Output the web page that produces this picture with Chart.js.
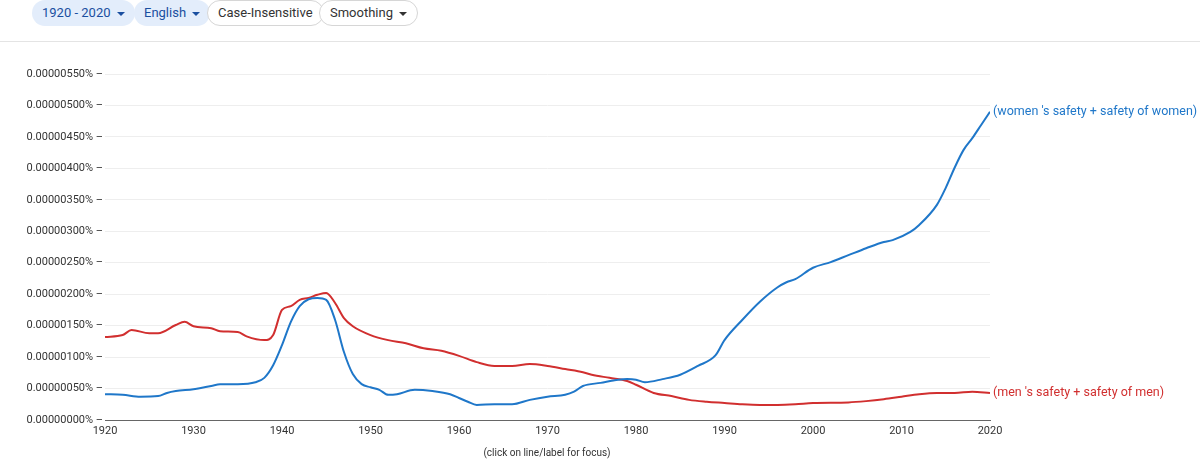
<!DOCTYPE html>
<html><head><meta charset="utf-8">
<script src="https://cdn.jsdelivr.net/npm/chart.js@4"></script>
<style>
body{margin:0;width:1200px;height:459px;overflow:hidden;background:#fff;font-family:Roboto,Arial,sans-serif}
#bar{position:absolute;left:0;top:0;width:1200px;height:41px;border-bottom:1px solid #e4e4e4;background:#fff}
.b{position:absolute;top:0;height:26px;line-height:26px;border-radius:13px;font-size:13px;padding:0 10px;box-sizing:border-box;white-space:nowrap}
.blue{background:#e3edfb;color:#1a4fa0}
.out{border:1px solid #d6d6d6;color:#333;background:#fff;line-height:24px}
.car{display:inline-block;border-left:4px solid transparent;border-right:4px solid transparent;border-top:4px solid currentColor;margin-left:6px;vertical-align:middle}
#wrap{position:absolute;left:0;top:0;width:1200px;height:459px}
</style></head><body>
<div id="wrap"><canvas id="c"></canvas></div>
<div id="bar">
<div class="b blue" style="left:32px">1920 - 2020<span class="car"></span></div>
<div class="b blue" style="left:134px">English<span class="car"></span></div>
<div class="b out" style="left:207px">Case-Insensitive</div>
<div class="b out" style="left:319px">Smoothing<span class="car"></span></div>
</div>
<script>
// values in units of 0.00000001%
const womenYears = [1920,1922,1924,1926,1927,1928,1930,1932,1933,1935,1937,1938,1939,1940,1941,1942,1943,1944,1945,1946,1947,1948,1949,1950,1951,1952,1953,1955,1957,1959,1960,1961,1962,1964,1966,1968,1970,1972,1973,1974,1976,1978,1979,1980,1981,1983,1985,1987,1989,1990,1992,1994,1996,1997,1998,2000,2002,2004,2006,2008,2009,2011,2012,2014,2015,2016,2017,2018,2019,2020];
const womenValues = [41,40,37,38,43,46,49,54,57,57,60,67,87,119,156,181,192,194,191,159,108,73,57,52,48,40,41,48,46,41,35,29,24,25,25,32,37,40,45,54,59,64,65,64,60,65,72,86,103,127,159,188,211,219,224,242,251,262,273,283,286,299,310,342,369,401,429,448,469,490];
const menYears = [1920,1922,1923,1925,1926,1928,1929,1930,1932,1933,1935,1936,1938,1939,1940,1941,1942,1943,1944,1945,1946,1947,1948,1950,1952,1954,1956,1958,1960,1962,1964,1966,1968,1970,1972,1974,1975,1977,1979,1980,1982,1984,1986,1988,1990,1992,1994,1996,1998,2000,2004,2006,2008,2010,2012,2014,2016,2018,2020];
const menValues = [132,135,143,138,138,151,156,149,146,141,140,133,127,135,175,181,191,194,199,202,186,162,149,135,127,122,114,110,102,92,86,86,89,86,81,76,72,67,62,56,43,38,32,29,27,25,24,24,25,27,28,30,33,37,41,43,43,45,43];
const seriesLabels = ["(women 's safety + safety of women)", "(men 's safety + safety of men)"];
const seriesColors = ['#1f77c9', '#d12f2f'];
const yTicks = [0,50,100,150,200,250,300,350,400,450,500,550];

function pts(xs, ys){ return xs.map((x,i)=>({x:x,y:ys[i]})); }

const endLabels = {
  id:'endLabels',
  afterDatasetsDraw(chart){
    const ctx = chart.ctx;
    ctx.save();
    ctx.font = '12.5px Roboto, Arial, sans-serif';
    ctx.textBaseline = 'middle';
    chart.data.datasets.forEach((ds,i)=>{
      const last = ds.data[ds.data.length-1];
      ctx.fillStyle = seriesColors[i];
      ctx.fillText(seriesLabels[i], chart.scales.x.getPixelForValue(last.x)+3, chart.scales.y.getPixelForValue(last.y));
    });
    ctx.fillStyle = '#333';
    ctx.font = '10px Roboto, Arial, sans-serif';
    ctx.textAlign = 'center';
    ctx.fillText('(click on line/label for focus)', 547, 453);
    ctx.restore();
  }
};

new Chart(document.getElementById('c'), {
  type:'line',
  data:{datasets:[
    {data:pts(womenYears,womenValues), borderColor:seriesColors[0], borderWidth:2, pointRadius:0, cubicInterpolationMode:'monotone'},
    {data:pts(menYears,menValues), borderColor:seriesColors[1], borderWidth:2, pointRadius:0, cubicInterpolationMode:'monotone'}
  ]},
  options:{
    responsive:true, maintainAspectRatio:false, animation:false,
    layout:{padding:{top:74,right:210,left:0,bottom:0}},
    plugins:{legend:{display:false}, tooltip:{enabled:false}},
    scales:{
      x:{type:'linear', min:1920, max:2020,
        afterFit(s){ s.height = 39; },
        grid:{display:false, drawTicks:true, tickLength:4, tickColor:'#666'},
        border:{color:'#666'},
        ticks:{stepSize:10, color:'#333', font:{size:11, family:'Roboto'}, padding:1, maxRotation:0, callback:v=>String(v)}},
      y:{min:0, max:550,
        afterFit(s){ s.width = 105; },
        afterBuildTicks(s){ s.ticks = yTicks.map(v=>({value:v})); },
        grid:{color:'#eeeeee', drawTicks:false},
        border:{display:false},
        ticks:{color:'#333', font:{size:11, family:'Roboto'}, padding:2,
          callback:v=>(v*1e-8).toFixed(8)+'% –'}}
    }
  },
  plugins:[endLabels]
});
</script>
</body></html>
